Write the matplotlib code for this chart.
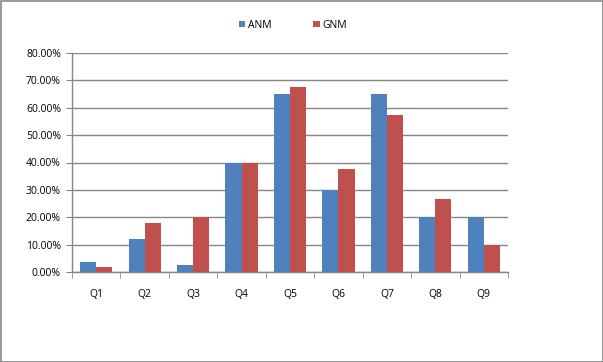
import matplotlib
matplotlib.use("Agg")
import matplotlib.pyplot as plt
import numpy as np
from matplotlib.patches import Rectangle
from matplotlib.ticker import FuncFormatter

categories = ["Q1", "Q2", "Q3", "Q4", "Q5", "Q6", "Q7", "Q8", "Q9"]
anm = [3.7, 12.0, 2.6, 40.0, 65.0, 30.0, 65.0, 20.0, 20.0]
gnm = [1.9, 18.0, 20.0, 40.0, 67.5, 37.5, 57.5, 26.5, 10.0]
series_names = ["ANM", "GNM"]
yticks = [0, 10, 20, 30, 40, 50, 60, 70, 80]

blue = "#4F81BD"
red = "#C0504D"
grid = "#868686"

plt.rcParams['font.family'] = ['Open Sans', 'DejaVu Sans']

fig = plt.figure(figsize=(6.03, 3.62), dpi=100)
ax = fig.add_axes([72/603, 1-272/362, 436/603, 219/362])

x = np.arange(len(categories))
w = 1/3
ax.bar(x - w/2, anm, width=w, color=blue, label=series_names[0], zorder=3)
ax.bar(x + w/2, gnm, width=w, color=red, label=series_names[1], zorder=3)

ax.set_xlim(-0.5, len(categories) - 0.5)
ax.set_ylim(0, 80)
ax.set_yticks(yticks)
ax.yaxis.set_major_formatter(FuncFormatter(lambda v, p: f"{v:.2f}%"))
ax.set_xticks(x)
ax.set_xticklabels(categories)
ax.set_xticks(np.arange(-0.5, len(categories)), minor=True)
ax.tick_params(axis='x', which='major', length=0, pad=12, labelsize=7.5, colors='black')
ax.tick_params(axis='x', which='minor', length=4, color=grid, direction='out')
ax.tick_params(axis='y', length=4, color=grid, direction='out', labelsize=7.5, pad=4)
ax.yaxis.grid(True, color=grid, linewidth=1.0, zorder=0)
for s in ['top', 'right']:
    ax.spines[s].set_visible(False)
for s in ['left', 'bottom']:
    ax.spines[s].set_color(grid)
    ax.spines[s].set_linewidth(1.0)

leg = fig.legend(loc='center', bbox_to_anchor=(293/603, 1-25/362), ncol=2, frameon=False,
                 fontsize=7.5, handlelength=0.6, handleheight=0.6, handletextpad=0.3,
                 columnspacing=4.0)

fig.patches.append(Rectangle((0.5/603, 0.5/362), 1-1/603, 1-1/362, transform=fig.transFigure,
                             fill=False, edgecolor=grid, linewidth=1.2))

fig.savefig("out.png", dpi=100)
